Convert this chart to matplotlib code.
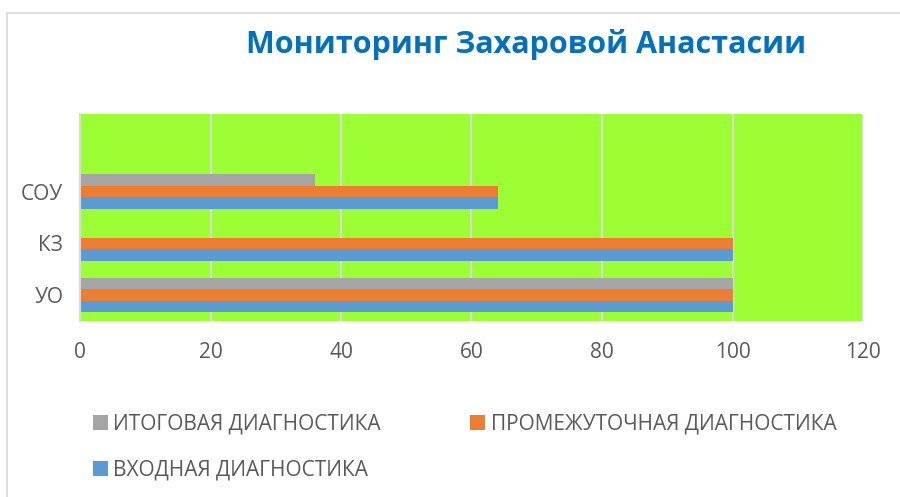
import matplotlib.pyplot as plt
from matplotlib.patches import Rectangle
import numpy as np

plt.rcParams['font.family'] = ['Open Sans', 'DejaVu Sans']

# категории снизу вверх (четвёртая позиция сверху пустая, как в Excel)
categories = ['УО', 'КЗ', 'СОУ']
series_names = ['ИТОГОВАЯ ДИАГНОСТИКА', 'ПРОМЕЖУТОЧНАЯ ДИАГНОСТИКА', 'ВХОДНАЯ ДИАГНОСТИКА']
itog = [100, 0, 36]
promezh = [100, 100, 64]
vhod = [100, 100, 64]
x_ticks = [0, 20, 40, 60, 80, 100, 120]

colors = {'itog': '#A5A5A5', 'promezh': '#ED7D31', 'vhod': '#5B9BD5'}
text_col = '#595959'

fig = plt.figure(figsize=(9, 4.97), dpi=100)
ax = fig.add_axes([80 / 900, 1 - 321 / 497, 783 / 900, 207 / 497])
ax.set_facecolor('#9BFF33')

y = np.arange(len(categories))
h = 0.222
ax.barh(y - h, vhod, height=h, color=colors['vhod'], label=series_names[2], zorder=3)
ax.barh(y, promezh, height=h, color=colors['promezh'], label=series_names[1], zorder=3)
ax.barh(y + h, itog, height=h, color=colors['itog'], label=series_names[0], zorder=3)

ax.set_xlim(0, 120)
ax.set_ylim(-0.5, 3.5)
ax.set_xticks(x_ticks)
ax.set_xticklabels([str(t) for t in x_ticks])
ax.set_yticks(y)
ax.set_yticklabels(categories)
ax.tick_params(axis='both', length=0, labelsize=15, colors=text_col)
ax.tick_params(axis='x', pad=15)
ax.tick_params(axis='y', pad=12)

ax.grid(axis='x', color='#D9D9D9', linewidth=1.5, zorder=1)
for s in ['top', 'right', 'bottom']:
    ax.spines[s].set_visible(False)
ax.spines['left'].set_color('#D9D9D9')
ax.spines['left'].set_linewidth(1.5)
ax.spines['left'].set_zorder(4)

# заголовок
fig.text(526 / 900, 1 - 45 / 497, 'Мониторинг Захаровой Анастасии', ha='center', va='center',
         fontsize=22, fontweight='bold', color='#0070C0')

# легенда: порядок handles так, чтобы заполнение шло по строкам
handles, labels = ax.get_legend_handles_labels()
order = [2, 0, 1]
leg = fig.legend([handles[i] for i in order], [labels[i] for i in order],
                 loc='upper left', bbox_to_anchor=(93 / 900, 1 - 414 / 497), ncol=2,
                 frameon=False, fontsize=15, handlelength=0.72, handleheight=0.72,
                 handletextpad=0.25, columnspacing=4.3, labelspacing=1.2, borderpad=0,
                 borderaxespad=0)
for t in leg.get_texts():
    t.set_color(text_col)

# рамка области диаграммы
fig.patches.append(Rectangle((7 / 900, -0.1), 1.0, 1 - 13 / 497 + 0.1, transform=fig.transFigure,
                             fill=False, edgecolor='#D9D9D9', linewidth=1.2))

fig.savefig('out.png', dpi=100)
